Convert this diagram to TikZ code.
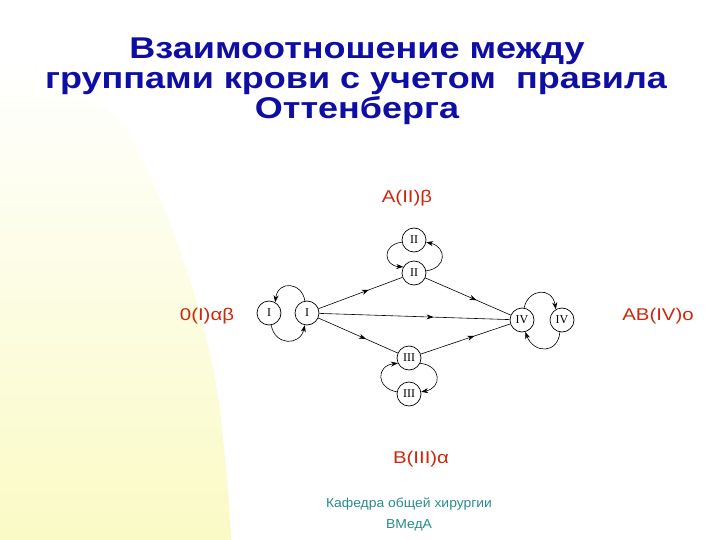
\documentclass[tikz,border=0pt]{standalone}
\usepackage{fontspec}
\setmainfont{Liberation Sans}
\newfontfamily\nodeserif{Liberation Serif}
\usetikzlibrary{arrows.meta,decorations.markings}
\definecolor{titleblue}{RGB}{14,14,165}
\definecolor{labelred}{RGB}{205,40,15}
\definecolor{footteal}{RGB}{40,140,140}
\definecolor{bgyellow}{RGB}{250,250,198}
\definecolor{bgmid}{RGB}{254,254,230}
\begin{document}
\begin{tikzpicture}[x=1pt,y=-1pt,
  grp/.style={circle,draw,line width=0.7pt,minimum size=24pt,inner sep=0pt,font=\nodeserif\fontsize{12}{12}\selectfont},
  conn/.style={line width=0.6pt},
  tipped/.style={conn,-{Stealth[length=7pt,width=5pt]}},
  midarrow/.style={conn,postaction={decorate},decoration={markings,mark=at position 0.6 with {\arrow{Stealth[length=7pt,width=5pt]}}}},
  ttl/.style={anchor=base,xscale=1.2,text=titleblue,font=\bfseries\fontsize{30}{30}\selectfont},
  lbl/.style={anchor=base,xscale=1.2,text=labelred,font=\fontsize{17}{17}\selectfont},
  foot/.style={anchor=base,xscale=1.07,text=footteal,font=\fontsize{13}{13}\selectfont}]
\path[fill=white,use as bounding box] (0,0) rectangle (720,540);
\shade[top color=white,middle color=bgmid,bottom color=bgyellow]
  (0,60) .. controls (60,80) and (105,100) .. (127,130)
  .. controls (165,200) and (212,320) .. (222,430)
  .. controls (228,480) and (230,520) .. (231,540) -- (0,540) -- cycle;

% title
\node[ttl] (t1) at (357,59) {Взаимоотношение между};
\node[ttl] (t2) at (356,89) {группами крови с учетом\ \ правила};
\node[ttl] (t3) at (357,119) {Оттенберга};

% labels
\node[lbl] (lA) at (407,203) {A(II)β};
\node[lbl] (lO) at (207,320) {0(I)αβ};
\node[lbl] (lAB) at (658,320) {AB(IV)o};
\node[lbl] (lB) at (421,463) {B(III)α};

% footer
\node[foot] (f1) at (409,507) {Кафедра общей хирургии};
\node[foot] (f2) at (409,528) {ВМедА};

% nodes
\node[grp] (I0) at (269,313) {I};
\node[grp] (I1) at (307,313) {I};
\node[grp] (IIt) at (414,240) {II};
\node[grp] (II) at (414,273) {II};
\node[grp] (IV) at (522,320) {IV};
\node[grp] (IVr) at (562,320) {IV};
\node[grp] (III) at (409,358) {III};
\node[grp] (IIIb) at (409,394) {III};

% straight connectors
\draw[midarrow] (I1) -- (II);
\draw[midarrow] (II) -- (IV);
\draw[midarrow] (I1) -- (IV);
\draw[midarrow] (I1) -- (III);
\draw[midarrow] (III) -- (IV);

% loops
\draw[tipped] (I1.100) .. controls (302,282) and (278,280) .. (I0.60);
\draw[tipped] (I0.-80) .. controls (275,346) and (300,346) .. (I1.-100);
\draw[tipped] (IIt.190) .. controls (381,245) and (384,266) .. (II.150);
\draw[tipped] (II.10) .. controls (447,268) and (447,247) .. (IIt.-10);
\draw[tipped] (IIIb.170) .. controls (376,388) and (376,366) .. (III.205);
\draw[tipped] (III.-25) .. controls (442,366) and (442,388) .. (IIIb.10);
\draw[tipped] (IV.80) .. controls (528,289) and (552,286) .. (IVr.120);
\draw[tipped] (IVr.-100) .. controls (558,354) and (534,354) .. (IV.-75);
\end{tikzpicture}
\end{document}
